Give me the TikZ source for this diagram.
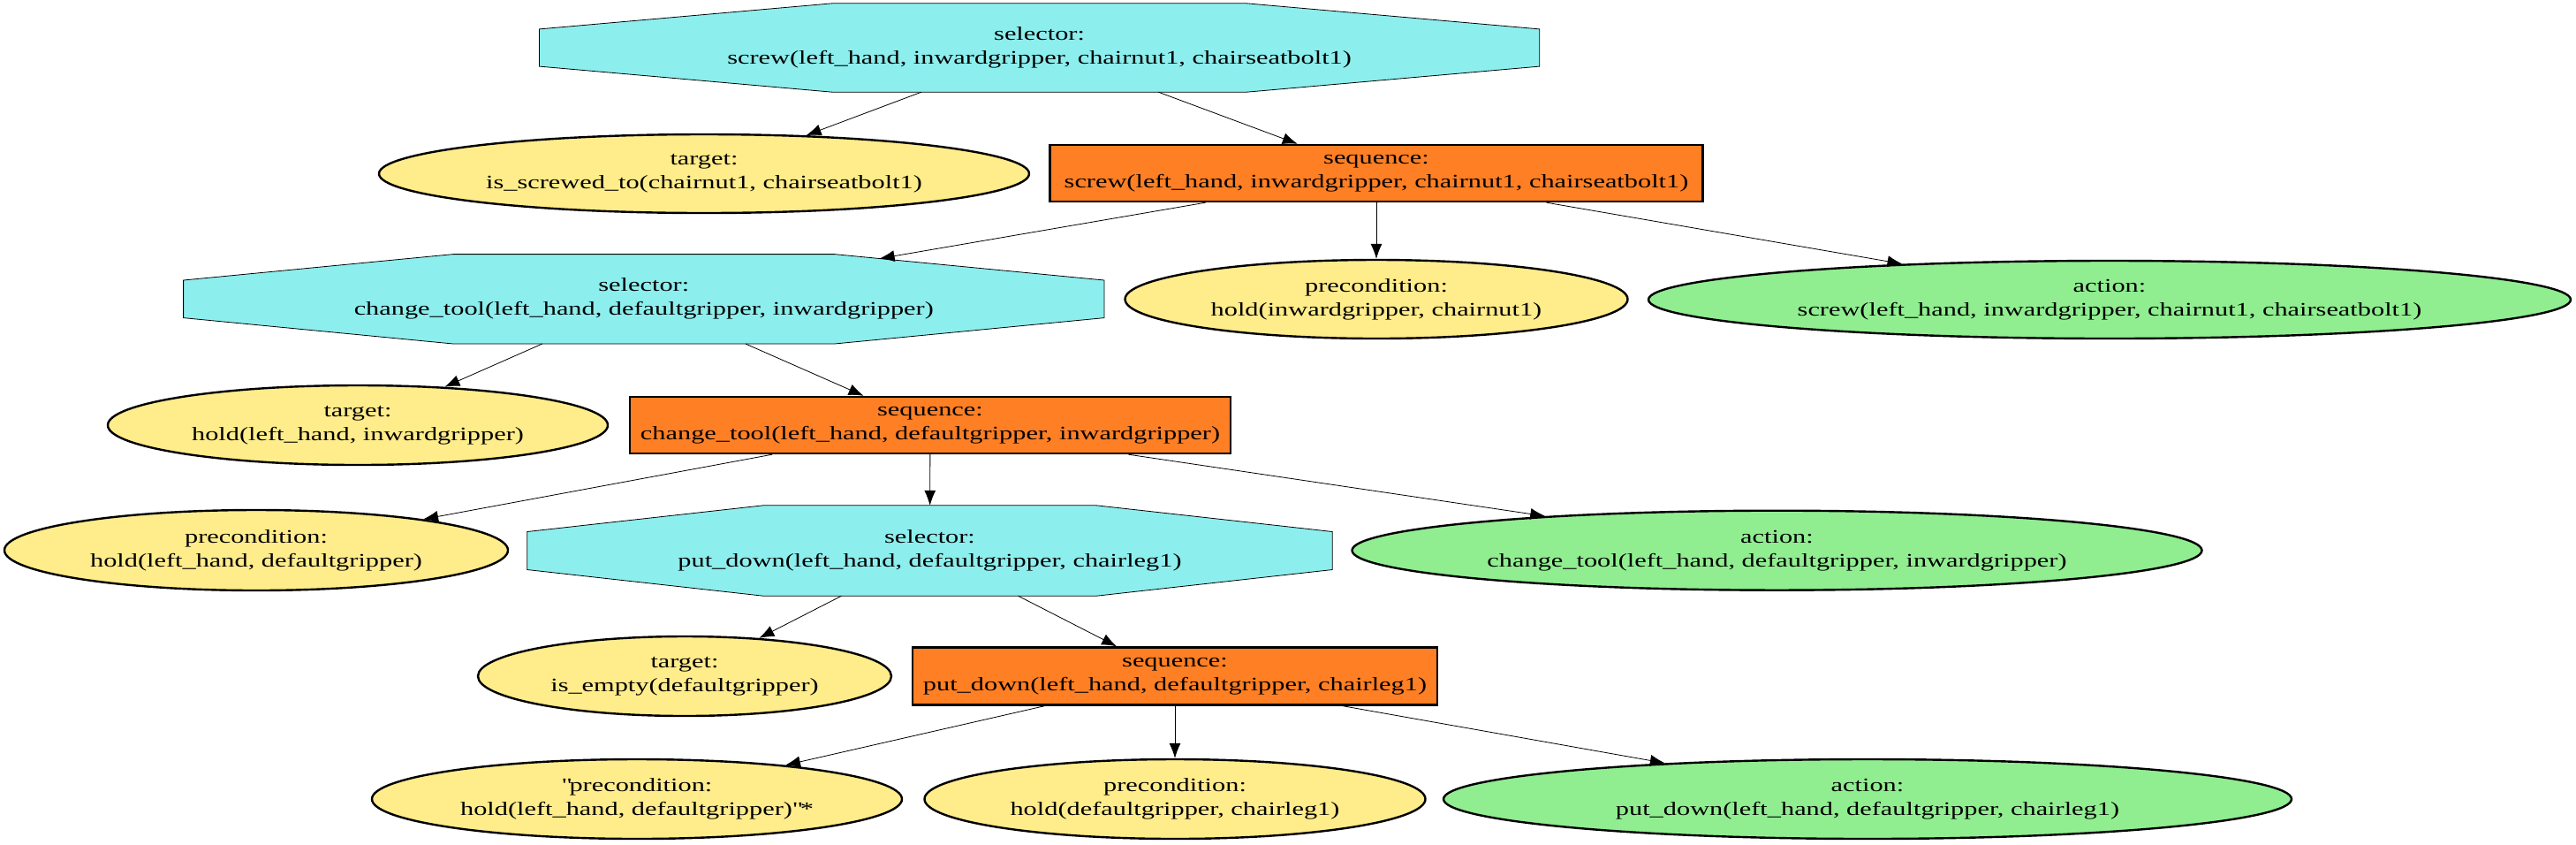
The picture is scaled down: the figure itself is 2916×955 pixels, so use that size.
\documentclass[tikz,border=0pt]{standalone}
\usepackage{fontspec}
\setmainfont{Liberation Serif}[FakeStretch=1.405]
\usetikzlibrary{shapes.geometric,arrows.meta,calc,intersections}
\pgfdeclarelayer{bg}
\pgfsetlayers{bg,main}
\definecolor{selcol}{HTML}{8DEEEE}
\definecolor{seqcol}{HTML}{FF7F24}
\definecolor{condcol}{HTML}{FFEC8B}
\definecolor{actcol}{HTML}{90EE90}
\tikzset{
  base/.style={inner sep=0pt, align=center, font=\fontsize{10.8}{13.5}\selectfont},
  selbox/.style={base, rectangle},
  seqbox/.style={base, rectangle, draw, fill=seqcol},
  condell/.style={base, ellipse, draw, fill=condcol},
  actell/.style={base, ellipse, draw, fill=actcol},
  octshape/.style={draw, fill=selcol},
  edge/.style={-{Latex[length=8.5pt,width=6.5pt]}},
}
\begin{document}
\begin{tikzpicture}[x=0.5pt, y=-0.5pt, line width=1.2pt]
\useasboundingbox (0,0) rectangle (2916,955);

% selectors (octagon drawn behind)
\node[selbox, minimum width=565pt, minimum height=49pt] (sel1) at (1176.6,54) {selector:\\screw(left\_hand, inwardgripper, chairnut1, chairseatbolt1)};
\node[selbox, minimum width=520pt, minimum height=49.5pt] (sel2) at (728.8,338.3) {selector:\\change\_tool(left\_hand, defaultgripper, inwardgripper)};
\node[selbox, minimum width=454.5pt, minimum height=50pt] (sel3) at (1052.5,623) {selector:\\put\_down(left\_hand, defaultgripper, chairleg1)};

% sequences
\node[seqbox, minimum width=369.5pt, minimum height=32pt] (seq1) at (1558,196) {sequence:\\screw(left\_hand, inwardgripper, chairnut1, chairseatbolt1)};
\node[seqbox, minimum width=340pt, minimum height=32pt] (seq2) at (1053,481) {sequence:\\change\_tool(left\_hand, defaultgripper, inwardgripper)};
\node[seqbox, minimum width=297pt, minimum height=32.5pt] (seq3) at (1330,765) {sequence:\\put\_down(left\_hand, defaultgripper, chairleg1)};

% conditions
\node[condell, minimum width=368pt, minimum height=44.5pt] (target1) at (797,196.5) {target:\\is\_screwed\_to(chairnut1, chairseatbolt1)};
\node[condell, minimum width=284.5pt, minimum height=44.5pt] (pre1) at (1558,338.5) {precondition:\\hold(inwardgripper, chairnut1)};
\node[condell, minimum width=283pt, minimum height=45pt] (target2) at (405,481) {target:\\hold(left\_hand, inwardgripper)};
\node[condell, minimum width=285pt, minimum height=45.5pt] (pre2) at (290,622.5) {precondition:\\hold(left\_hand, defaultgripper)};
\node[condell, minimum width=234pt, minimum height=45pt] (target3) at (775,765) {target:\\is\_empty(defaultgripper)};
\node[condell, minimum width=300pt, minimum height=45pt] (pre3) at (721,904) {\textquotedbl precondition:\\hold(left\_hand, defaultgripper)\textquotedbl*};
\node[condell, minimum width=283.5pt, minimum height=45pt] (pre4) at (1330,904) {precondition:\\hold(defaultgripper, chairleg1)};

% actions
\node[actell, minimum width=522pt, minimum height=44pt] (act1) at (2388,339) {action:\\screw(left\_hand, inwardgripper, chairnut1, chairseatbolt1)};
\node[actell, minimum width=481pt, minimum height=45pt] (act2) at (2011.5,622.7) {action:\\change\_tool(left\_hand, defaultgripper, inwardgripper)};
\node[actell, minimum width=480pt, minimum height=45pt] (act3) at (2114,904) {action:\\put\_down(left\_hand, defaultgripper, chairleg1)};

\begin{pgfonlayer}{bg}
\foreach \n in {sel1,sel2,sel3}{
  \draw[octshape, name path global=oct-\n]
    ($(\n.north west)!0.293!(\n.north east)$) --
    ($(\n.north west)!0.707!(\n.north east)$) --
    ($(\n.north east)!0.29!(\n.south east)$) --
    ($(\n.north east)!0.71!(\n.south east)$) --
    ($(\n.south west)!0.707!(\n.south east)$) --
    ($(\n.south west)!0.293!(\n.south east)$) --
    ($(\n.north west)!0.71!(\n.south west)$) --
    ($(\n.north west)!0.29!(\n.south west)$) -- cycle;
}
\end{pgfonlayer}

\path[name path=lseqsel2] (seq1.center) -- (sel2.center);
\path[name intersections={of=lseqsel2 and oct-sel2, by=sel2in}];

% edges
\draw[edge] (sel1) -- (target1);
\draw[edge] (sel1) -- (seq1);
\draw[edge] (seq1) -- (sel2in);
\draw[edge] (seq1) -- (pre1);
\draw[edge] (seq1) -- (act1);
\draw[edge] (sel2) -- (target2);
\draw[edge] (sel2) -- (seq2);
\draw[edge] (seq2) -- (pre2);
\draw[edge] (seq2) -- (sel3);
\draw[edge] (seq2) -- (act2);
\draw[edge] (sel3) -- (target3);
\draw[edge] (sel3) -- (seq3);
\draw[edge] (seq3) -- (pre3);
\draw[edge] (seq3) -- (pre4);
\draw[edge] (seq3) -- (act3);
\end{tikzpicture}
\end{document}
